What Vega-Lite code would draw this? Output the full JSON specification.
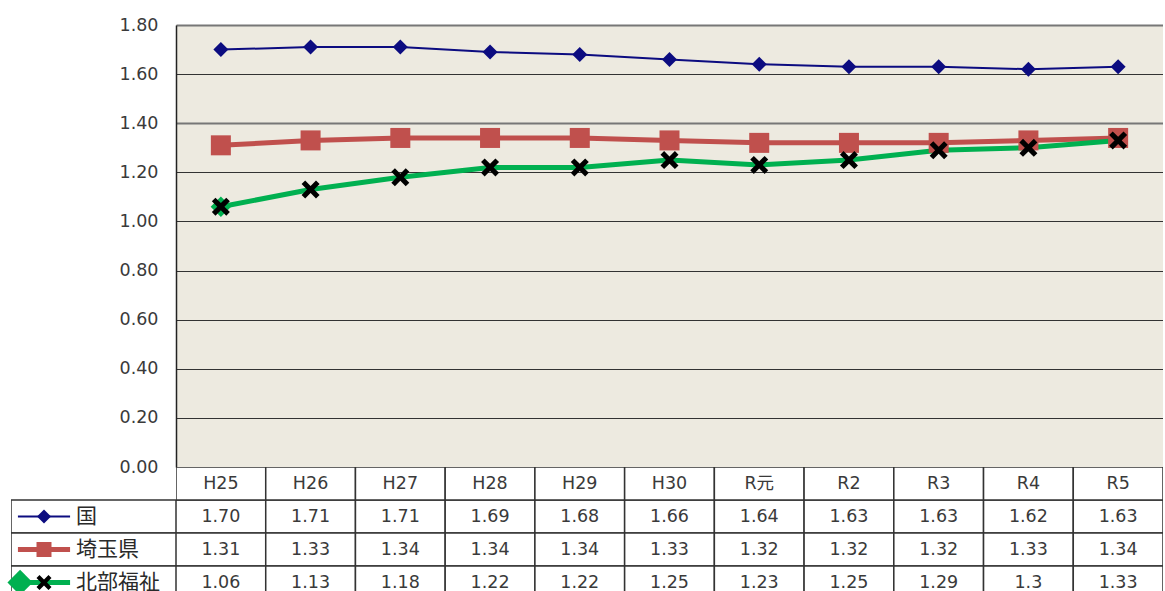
{
  "$schema": "https://vega.github.io/schema/vega-lite/v6.json",
  "background": "white",
  "padding": {"left": 7, "top": 16, "right": 0, "bottom": 0},
  "config": {"view": {"stroke": null}, "font": "Noto Sans CJK JP"},
  "datasets": {
    "rates": [
      {"year": "H25", "series": "国", "value": 1.70, "label": "1.70"},
      {"year": "H26", "series": "国", "value": 1.71, "label": "1.71"},
      {"year": "H27", "series": "国", "value": 1.71, "label": "1.71"},
      {"year": "H28", "series": "国", "value": 1.69, "label": "1.69"},
      {"year": "H29", "series": "国", "value": 1.68, "label": "1.68"},
      {"year": "H30", "series": "国", "value": 1.66, "label": "1.66"},
      {"year": "R元", "series": "国", "value": 1.64, "label": "1.64"},
      {"year": "R2", "series": "国", "value": 1.63, "label": "1.63"},
      {"year": "R3", "series": "国", "value": 1.63, "label": "1.63"},
      {"year": "R4", "series": "国", "value": 1.62, "label": "1.62"},
      {"year": "R5", "series": "国", "value": 1.63, "label": "1.63"},
      {"year": "H25", "series": "埼玉県", "value": 1.31, "label": "1.31"},
      {"year": "H26", "series": "埼玉県", "value": 1.33, "label": "1.33"},
      {"year": "H27", "series": "埼玉県", "value": 1.34, "label": "1.34"},
      {"year": "H28", "series": "埼玉県", "value": 1.34, "label": "1.34"},
      {"year": "H29", "series": "埼玉県", "value": 1.34, "label": "1.34"},
      {"year": "H30", "series": "埼玉県", "value": 1.33, "label": "1.33"},
      {"year": "R元", "series": "埼玉県", "value": 1.32, "label": "1.32"},
      {"year": "R2", "series": "埼玉県", "value": 1.32, "label": "1.32"},
      {"year": "R3", "series": "埼玉県", "value": 1.32, "label": "1.32"},
      {"year": "R4", "series": "埼玉県", "value": 1.33, "label": "1.33"},
      {"year": "R5", "series": "埼玉県", "value": 1.34, "label": "1.34"},
      {"year": "H25", "series": "北部福祉", "value": 1.06, "label": "1.06"},
      {"year": "H26", "series": "北部福祉", "value": 1.13, "label": "1.13"},
      {"year": "H27", "series": "北部福祉", "value": 1.18, "label": "1.18"},
      {"year": "H28", "series": "北部福祉", "value": 1.22, "label": "1.22"},
      {"year": "H29", "series": "北部福祉", "value": 1.22, "label": "1.22"},
      {"year": "H30", "series": "北部福祉", "value": 1.25, "label": "1.25"},
      {"year": "R元", "series": "北部福祉", "value": 1.23, "label": "1.23"},
      {"year": "R2", "series": "北部福祉", "value": 1.25, "label": "1.25"},
      {"year": "R3", "series": "北部福祉", "value": 1.29, "label": "1.29"},
      {"year": "R4", "series": "北部福祉", "value": 1.30, "label": "1.3"},
      {"year": "R5", "series": "北部福祉", "value": 1.33, "label": "1.33"}
    ]
  },
  "columns": 2,
  "spacing": 0,
  "bounds": "flush",
  "resolve": {"scale": {"size": "independent", "fill": "independent", "shape": "independent", "stroke": "independent", "strokeWidth": "independent"}},
  "concat": [
    {
      "width": 165,
      "height": 442,
      "data": {"values": [{}]},
      "mark": "text",
      "encoding": {"text": {"value": ""}}
    },
    {
      "width": 987,
      "height": 442,
      "view": {"fill": "#EDEAE0", "stroke": null},
      "data": {"name": "rates"},
      "encoding": {
        "x": {"field": "year", "type": "nominal", "scale": {"type": "point", "domain": ["H25", "H26", "H27", "H28", "H29", "H30", "R元", "R2", "R3", "R4", "R5"], "padding": 0.5}, "axis": null},
        "y": {
          "field": "value", "type": "quantitative",
          "scale": {"domain": [0, 1.8], "nice": false},
          "axis": {
            "values": [0, 0.2, 0.4, 0.6, 0.8, 1.0, 1.2, 1.4, 1.6, 1.8],
            "format": ".2f", "title": null, "ticks": false,
            "labelFontSize": 17.5, "labelColor": "#3a3a3a", "labelPadding": 18, "labelFont": "DejaVu Sans",
            "domainColor": "#222", "domainWidth": 1.5,
            "grid": true,
            "gridColor": {"condition": {"test": "datum.value === 1.8 || datum.value === 1.4", "value": "#777"}, "value": "#333"},
            "gridWidth": {"condition": {"test": "datum.value === 1.8 || datum.value === 1.4", "value": 2}, "value": 1},
            "gridOpacity": 1
          }
        }
      },
      "layer": [
        {
          "mark": {"type": "line", "strokeJoin": "round"},
          "encoding": {
            "stroke": {"field": "series", "type": "nominal", "scale": {"domain": ["国", "埼玉県", "北部福祉"], "range": ["#0C0C80", "#C0504D", "#00B050"]}, "legend": null},
            "strokeWidth": {"field": "series", "type": "nominal", "scale": {"type": "ordinal", "domain": ["国", "埼玉県", "北部福祉"], "range": [2, 5, 5]}, "legend": null}
          }
        },
        {
          "transform": [{"filter": "datum.series === '北部福祉' && datum.year === 'H25'"}],
          "mark": {"type": "point", "filled": true, "shape": "diamond", "size": 420, "color": "#00B050", "opacity": 1}
        },
        {
          "mark": {"type": "point", "filled": true, "opacity": 1, "strokeWidth": 0},
          "encoding": {
            "shape": {"field": "series", "type": "nominal", "scale": {"domain": ["国", "埼玉県", "北部福祉"], "range": ["diamond", "square", "M-1,-0.6L-0.6,-1L0,-0.4L0.6,-1L1,-0.6L0.4,0L1,0.6L0.6,1L0,0.4L-0.6,1L-1,0.6L-0.4,0Z"]}, "legend": null},
            "fill": {"field": "series", "type": "nominal", "scale": {"domain": ["国", "埼玉県", "北部福祉"], "range": ["#0C0C80", "#C0504D", "#000000"]}, "legend": null},
            "size": {"field": "series", "type": "nominal", "scale": {"type": "ordinal", "domain": ["国", "埼玉県", "北部福祉"], "range": [225, 400, 324]}, "legend": null}
          }
        }
      ]
    },
    {
      "width": 165,
      "height": 125,
      "data": {"name": "rates"},
      "transform": [{"filter": "datum.year === 'H25'"}],
      "encoding": {
        "y": {"field": "series", "type": "nominal", "scale": {"type": "band", "domain": ["年度", "国", "埼玉県", "北部福祉"], "range": [0, 132], "paddingInner": 0, "paddingOuter": 0}, "axis": null}
      },
      "layer": [
        {
          "mark": {"type": "rect", "fill": "white", "stroke": "#333", "strokeWidth": 1.5, "clip": true},
          "encoding": {
            "x": {"datum": 0, "type": "quantitative", "scale": {"domain": [0, 100], "nice": false, "zero": false}, "axis": null},
            "x2": {"datum": 100}
          }
        },
        {
          "mark": {"type": "rule", "clip": true},
          "encoding": {
            "x": {"datum": 4.2, "type": "quantitative"},
            "x2": {"datum": 35.8},
            "stroke": {"field": "series", "type": "nominal", "scale": {"domain": ["国", "埼玉県", "北部福祉"], "range": ["#0C0C80", "#C0504D", "#00B050"]}, "legend": null},
            "strokeWidth": {"field": "series", "type": "nominal", "scale": {"type": "ordinal", "domain": ["国", "埼玉県", "北部福祉"], "range": [2, 5, 5]}, "legend": null}
          }
        },
        {
          "transform": [{"filter": "datum.series === '北部福祉'"}],
          "mark": {"type": "point", "filled": true, "shape": "diamond", "size": 640, "color": "#00B050", "opacity": 1},
          "encoding": {"x": {"datum": 5.5, "type": "quantitative"}}
        },
        {
          "mark": {"type": "point", "filled": true, "opacity": 1, "strokeWidth": 0, "clip": true},
          "encoding": {
            "x": {"datum": 20, "type": "quantitative"},
            "shape": {"field": "series", "type": "nominal", "scale": {"domain": ["国", "埼玉県", "北部福祉"], "range": ["diamond", "square", "M-1,-0.6L-0.6,-1L0,-0.4L0.6,-1L1,-0.6L0.4,0L1,0.6L0.6,1L0,0.4L-0.6,1L-1,0.6L-0.4,0Z"]}, "legend": null},
            "fill": {"field": "series", "type": "nominal", "scale": {"domain": ["国", "埼玉県", "北部福祉"], "range": ["#0C0C80", "#C0504D", "#000000"]}, "legend": null},
            "size": {"field": "series", "type": "nominal", "scale": {"type": "ordinal", "domain": ["国", "埼玉県", "北部福祉"], "range": [196, 225, 225]}, "legend": null}
          }
        },
        {
          "mark": {"type": "text", "align": "left", "fontSize": 21, "color": "#2a2a2a", "font": "Noto Sans CJK JP", "clip": true},
          "encoding": {
            "x": {"datum": 39.4, "type": "quantitative"},
            "text": {"field": "series"}
          }
        }
      ]
    },
    {
      "width": 987,
      "height": 125,
      "data": {"name": "rates"},
      "encoding": {
        "x": {"field": "year", "type": "nominal", "scale": {"type": "band", "domain": ["H25", "H26", "H27", "H28", "H29", "H30", "R元", "R2", "R3", "R4", "R5"], "paddingInner": 0, "paddingOuter": 0}, "axis": null},
        "y": {"field": "series", "type": "nominal", "scale": {"type": "band", "domain": ["年度", "国", "埼玉県", "北部福祉"], "range": [0, 132], "paddingInner": 0, "paddingOuter": 0}, "axis": null}
      },
      "layer": [
        {
          "mark": {"type": "rect", "fill": "white", "stroke": "#333", "strokeWidth": 1.5, "clip": true}
        },
        {
          "transform": [{"filter": "datum.series === '国'"}],
          "mark": {"type": "rect", "fill": "white", "stroke": "#333", "strokeWidth": 1.5, "clip": true},
          "encoding": {"y": {"datum": "年度", "type": "nominal"}}
        },
        {
          "mark": {"type": "text", "fontSize": 17.5, "color": "#3a3a3a", "font": "DejaVu Sans, Noto Sans CJK JP", "clip": true},
          "encoding": {"text": {"field": "label"}}
        },
        {
          "transform": [{"filter": "datum.series === '国'"}],
          "mark": {"type": "text", "fontSize": 17.5, "color": "#3a3a3a", "font": "DejaVu Sans, Noto Sans CJK JP", "clip": true},
          "encoding": {"y": {"datum": "年度", "type": "nominal"}, "text": {"field": "year"}}
        }
      ]
    }
  ]
}
